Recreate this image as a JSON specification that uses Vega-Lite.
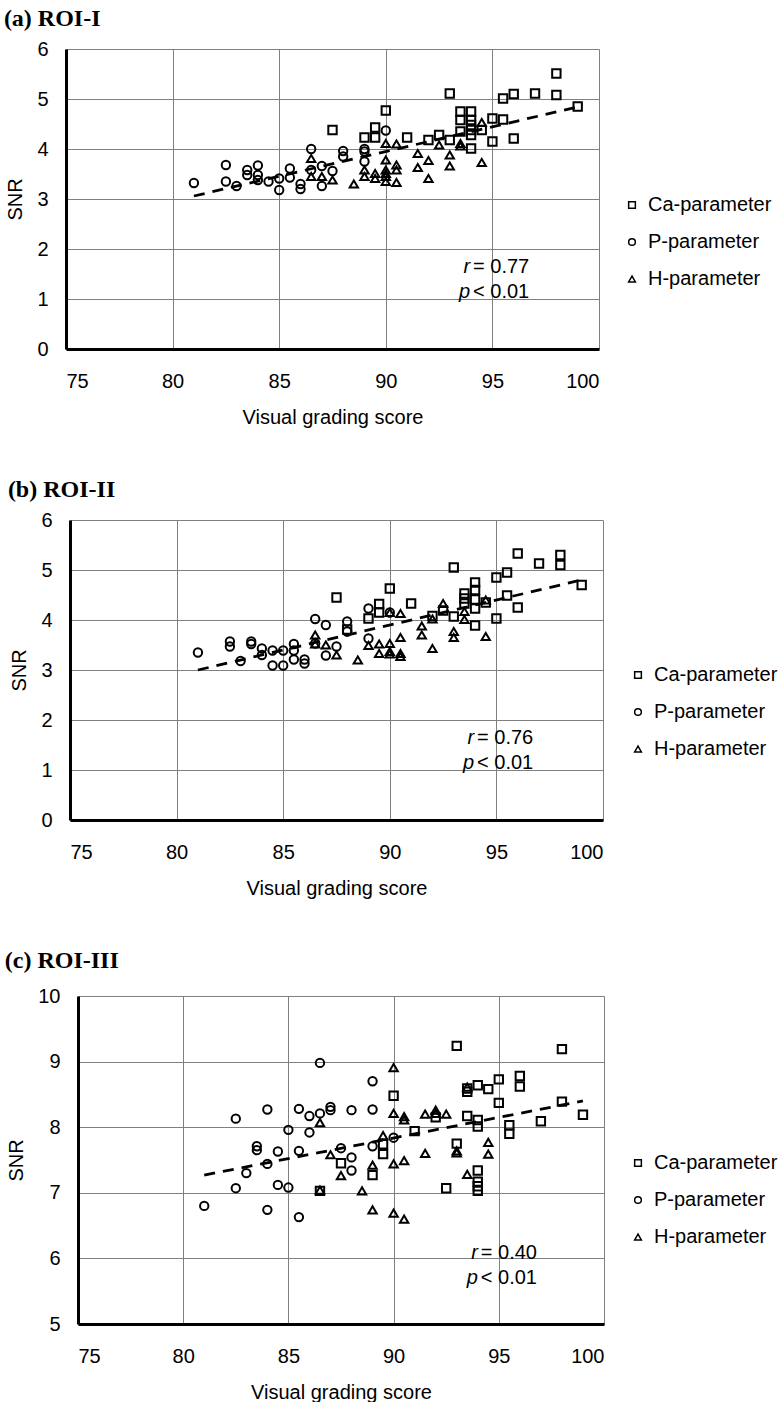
{
  "$schema": "https://vega.github.io/schema/vega-lite/v6.json",
  "background": "white",
  "padding": {"left": 0, "top": 7, "right": 0, "bottom": 0},
  "spacing": 51,
  "config": {
    "font": "Liberation Sans",
    "view": {"stroke": null},
    "title": {"font": "Liberation Serif", "fontWeight": "bold", "fontSize": 24, "anchor": "start", "frame": "bounds", "color": "black", "offset": 8, "dx": -2},
    "axis": {"domainColor": "black", "domainWidth": 3, "gridColor": "#808080", "gridWidth": 1, "ticks": false, "labelFontSize": 20, "labelColor": "black", "titleFontSize": 20, "titleFontWeight": "normal", "titleColor": "black", "labelOverlap": false},
    "axisX": {"labelPadding": 22, "titlePadding": 16},
    "axisY": {"labelPadding": 18, "titlePadding": 11},
    "legend": {"orient": "none", "padding": 0, "labelFontSize": 20, "labelColor": "black", "symbolSize": 45, "symbolStrokeWidth": 1.5, "symbolStrokeColor": "black", "rowPadding": 17, "labelOffset": 6, "title": null}
  },
  "datasets": {
    "a": [
      {"x": 87.5, "y": 4.38, "p": "Ca-parameter"}, {"x": 89, "y": 4.23, "p": "Ca-parameter"}, {"x": 89.5, "y": 4.43, "p": "Ca-parameter"}, {"x": 89.5, "y": 4.23, "p": "Ca-parameter"}, {"x": 90, "y": 4.77, "p": "Ca-parameter"}, {"x": 91, "y": 4.23, "p": "Ca-parameter"}, {"x": 92, "y": 4.18, "p": "Ca-parameter"}, {"x": 92.5, "y": 4.28, "p": "Ca-parameter"}, {"x": 93, "y": 5.11, "p": "Ca-parameter"}, {"x": 93, "y": 4.18, "p": "Ca-parameter"}, {"x": 93.5, "y": 4.75, "p": "Ca-parameter"}, {"x": 93.5, "y": 4.58, "p": "Ca-parameter"}, {"x": 93.5, "y": 4.35, "p": "Ca-parameter"}, {"x": 94, "y": 4.75, "p": "Ca-parameter"}, {"x": 94, "y": 4.58, "p": "Ca-parameter"}, {"x": 94, "y": 4.48, "p": "Ca-parameter"}, {"x": 94, "y": 4.38, "p": "Ca-parameter"}, {"x": 94, "y": 4.28, "p": "Ca-parameter"}, {"x": 94, "y": 4.01, "p": "Ca-parameter"}, {"x": 94.5, "y": 4.38, "p": "Ca-parameter"}, {"x": 95, "y": 4.61, "p": "Ca-parameter"}, {"x": 95, "y": 4.15, "p": "Ca-parameter"}, {"x": 95.5, "y": 5.01, "p": "Ca-parameter"}, {"x": 95.5, "y": 4.59, "p": "Ca-parameter"}, {"x": 96, "y": 5.1, "p": "Ca-parameter"}, {"x": 96, "y": 4.21, "p": "Ca-parameter"}, {"x": 97, "y": 5.11, "p": "Ca-parameter"}, {"x": 98, "y": 5.51, "p": "Ca-parameter"}, {"x": 98, "y": 5.08, "p": "Ca-parameter"}, {"x": 99, "y": 4.85, "p": "Ca-parameter"},
      {"x": 81, "y": 3.32, "p": "P-parameter"}, {"x": 82.5, "y": 3.68, "p": "P-parameter"}, {"x": 82.5, "y": 3.35, "p": "P-parameter"}, {"x": 83, "y": 3.26, "p": "P-parameter"}, {"x": 83.5, "y": 3.58, "p": "P-parameter"}, {"x": 83.5, "y": 3.48, "p": "P-parameter"}, {"x": 84, "y": 3.67, "p": "P-parameter"}, {"x": 84, "y": 3.48, "p": "P-parameter"}, {"x": 84, "y": 3.38, "p": "P-parameter"}, {"x": 84.5, "y": 3.35, "p": "P-parameter"}, {"x": 85, "y": 3.41, "p": "P-parameter"}, {"x": 85, "y": 3.18, "p": "P-parameter"}, {"x": 85.5, "y": 3.61, "p": "P-parameter"}, {"x": 85.5, "y": 3.43, "p": "P-parameter"}, {"x": 86, "y": 3.3, "p": "P-parameter"}, {"x": 86, "y": 3.2, "p": "P-parameter"}, {"x": 86.5, "y": 4.0, "p": "P-parameter"}, {"x": 86.5, "y": 3.58, "p": "P-parameter"}, {"x": 87, "y": 3.66, "p": "P-parameter"}, {"x": 87, "y": 3.26, "p": "P-parameter"}, {"x": 87.5, "y": 3.56, "p": "P-parameter"}, {"x": 88, "y": 3.96, "p": "P-parameter"}, {"x": 88, "y": 3.85, "p": "P-parameter"}, {"x": 89, "y": 4.0, "p": "P-parameter"}, {"x": 89, "y": 3.95, "p": "P-parameter"}, {"x": 89, "y": 3.75, "p": "P-parameter"}, {"x": 90, "y": 4.37, "p": "P-parameter"},
      {"x": 86.5, "y": 3.81, "p": "H-parameter"}, {"x": 86.5, "y": 3.45, "p": "H-parameter"}, {"x": 87, "y": 3.45, "p": "H-parameter"}, {"x": 87.5, "y": 3.38, "p": "H-parameter"}, {"x": 88.5, "y": 3.3, "p": "H-parameter"}, {"x": 89, "y": 3.58, "p": "H-parameter"}, {"x": 89, "y": 3.45, "p": "H-parameter"}, {"x": 89.5, "y": 3.51, "p": "H-parameter"}, {"x": 89.5, "y": 3.41, "p": "H-parameter"}, {"x": 90, "y": 4.11, "p": "H-parameter"}, {"x": 90, "y": 3.78, "p": "H-parameter"}, {"x": 90, "y": 3.58, "p": "H-parameter"}, {"x": 90, "y": 3.51, "p": "H-parameter"}, {"x": 90, "y": 3.45, "p": "H-parameter"}, {"x": 90, "y": 3.35, "p": "H-parameter"}, {"x": 90.5, "y": 4.1, "p": "H-parameter"}, {"x": 90.5, "y": 3.68, "p": "H-parameter"}, {"x": 90.5, "y": 3.58, "p": "H-parameter"}, {"x": 90.5, "y": 3.33, "p": "H-parameter"}, {"x": 91.5, "y": 3.91, "p": "H-parameter"}, {"x": 91.5, "y": 3.63, "p": "H-parameter"}, {"x": 92, "y": 3.77, "p": "H-parameter"}, {"x": 92, "y": 3.41, "p": "H-parameter"}, {"x": 92.5, "y": 4.08, "p": "H-parameter"}, {"x": 93, "y": 3.88, "p": "H-parameter"}, {"x": 93, "y": 3.66, "p": "H-parameter"}, {"x": 93.5, "y": 4.11, "p": "H-parameter"}, {"x": 93.5, "y": 4.06, "p": "H-parameter"}, {"x": 94.5, "y": 4.53, "p": "H-parameter"}, {"x": 94.5, "y": 3.73, "p": "H-parameter"}
    ],
    "b": [
      {"x": 87.5, "y": 4.45, "p": "Ca-parameter"}, {"x": 88, "y": 3.81, "p": "Ca-parameter"}, {"x": 89, "y": 4.03, "p": "Ca-parameter"}, {"x": 89.5, "y": 4.32, "p": "Ca-parameter"}, {"x": 89.5, "y": 4.15, "p": "Ca-parameter"}, {"x": 90, "y": 4.63, "p": "Ca-parameter"}, {"x": 91, "y": 4.33, "p": "Ca-parameter"}, {"x": 92, "y": 4.08, "p": "Ca-parameter"}, {"x": 92.5, "y": 4.19, "p": "Ca-parameter"}, {"x": 93, "y": 5.05, "p": "Ca-parameter"}, {"x": 93, "y": 4.07, "p": "Ca-parameter"}, {"x": 93.5, "y": 4.53, "p": "Ca-parameter"}, {"x": 93.5, "y": 4.43, "p": "Ca-parameter"}, {"x": 93.5, "y": 4.33, "p": "Ca-parameter"}, {"x": 94, "y": 4.75, "p": "Ca-parameter"}, {"x": 94, "y": 4.6, "p": "Ca-parameter"}, {"x": 94, "y": 4.41, "p": "Ca-parameter"}, {"x": 94, "y": 4.23, "p": "Ca-parameter"}, {"x": 94, "y": 3.89, "p": "Ca-parameter"}, {"x": 94.5, "y": 4.35, "p": "Ca-parameter"}, {"x": 95, "y": 4.85, "p": "Ca-parameter"}, {"x": 95, "y": 4.03, "p": "Ca-parameter"}, {"x": 95.5, "y": 4.95, "p": "Ca-parameter"}, {"x": 95.5, "y": 4.49, "p": "Ca-parameter"}, {"x": 96, "y": 5.33, "p": "Ca-parameter"}, {"x": 96, "y": 4.25, "p": "Ca-parameter"}, {"x": 97, "y": 5.13, "p": "Ca-parameter"}, {"x": 98, "y": 5.3, "p": "Ca-parameter"}, {"x": 98, "y": 5.1, "p": "Ca-parameter"}, {"x": 99, "y": 4.7, "p": "Ca-parameter"},
      {"x": 81, "y": 3.35, "p": "P-parameter"}, {"x": 82.5, "y": 3.57, "p": "P-parameter"}, {"x": 82.5, "y": 3.47, "p": "P-parameter"}, {"x": 83, "y": 3.18, "p": "P-parameter"}, {"x": 83.5, "y": 3.57, "p": "P-parameter"}, {"x": 83.5, "y": 3.52, "p": "P-parameter"}, {"x": 84, "y": 3.43, "p": "P-parameter"}, {"x": 84, "y": 3.3, "p": "P-parameter"}, {"x": 84.5, "y": 3.39, "p": "P-parameter"}, {"x": 84.5, "y": 3.09, "p": "P-parameter"}, {"x": 85, "y": 3.39, "p": "P-parameter"}, {"x": 85, "y": 3.09, "p": "P-parameter"}, {"x": 85.5, "y": 3.52, "p": "P-parameter"}, {"x": 85.5, "y": 3.39, "p": "P-parameter"}, {"x": 85.5, "y": 3.21, "p": "P-parameter"}, {"x": 86, "y": 3.21, "p": "P-parameter"}, {"x": 86, "y": 3.13, "p": "P-parameter"}, {"x": 86.5, "y": 4.02, "p": "P-parameter"}, {"x": 86.5, "y": 3.53, "p": "P-parameter"}, {"x": 87, "y": 3.9, "p": "P-parameter"}, {"x": 87, "y": 3.29, "p": "P-parameter"}, {"x": 87.5, "y": 3.47, "p": "P-parameter"}, {"x": 88, "y": 3.97, "p": "P-parameter"}, {"x": 88, "y": 3.77, "p": "P-parameter"}, {"x": 89, "y": 4.23, "p": "P-parameter"}, {"x": 89, "y": 3.63, "p": "P-parameter"}, {"x": 90, "y": 4.15, "p": "P-parameter"},
      {"x": 86.5, "y": 3.7, "p": "H-parameter"}, {"x": 86.5, "y": 3.52, "p": "H-parameter"}, {"x": 87, "y": 3.5, "p": "H-parameter"}, {"x": 87.5, "y": 3.3, "p": "H-parameter"}, {"x": 88.5, "y": 3.2, "p": "H-parameter"}, {"x": 89, "y": 3.49, "p": "H-parameter"}, {"x": 89.5, "y": 3.52, "p": "H-parameter"}, {"x": 89.5, "y": 3.33, "p": "H-parameter"}, {"x": 90, "y": 4.15, "p": "H-parameter"}, {"x": 90, "y": 3.53, "p": "H-parameter"}, {"x": 90, "y": 3.37, "p": "H-parameter"}, {"x": 90, "y": 3.32, "p": "H-parameter"}, {"x": 90.5, "y": 4.13, "p": "H-parameter"}, {"x": 90.5, "y": 3.65, "p": "H-parameter"}, {"x": 90.5, "y": 3.33, "p": "H-parameter"}, {"x": 90.5, "y": 3.27, "p": "H-parameter"}, {"x": 91.5, "y": 3.88, "p": "H-parameter"}, {"x": 91.5, "y": 3.7, "p": "H-parameter"}, {"x": 92, "y": 3.43, "p": "H-parameter"}, {"x": 92, "y": 4.02, "p": "H-parameter"}, {"x": 92.5, "y": 4.33, "p": "H-parameter"}, {"x": 93, "y": 3.77, "p": "H-parameter"}, {"x": 93, "y": 3.65, "p": "H-parameter"}, {"x": 93.5, "y": 4.17, "p": "H-parameter"}, {"x": 93.5, "y": 4.01, "p": "H-parameter"}, {"x": 94.5, "y": 3.67, "p": "H-parameter"}, {"x": 94.5, "y": 4.4, "p": "H-parameter"}
    ],
    "c": [
      {"x": 90, "y": 8.48, "p": "Ca-parameter"}, {"x": 89.5, "y": 7.74, "p": "Ca-parameter"}, {"x": 89.5, "y": 7.59, "p": "Ca-parameter"}, {"x": 87.5, "y": 7.45, "p": "Ca-parameter"}, {"x": 89, "y": 7.27, "p": "Ca-parameter"}, {"x": 86.5, "y": 7.03, "p": "Ca-parameter"}, {"x": 93, "y": 9.24, "p": "Ca-parameter"}, {"x": 98, "y": 9.19, "p": "Ca-parameter"}, {"x": 93.5, "y": 8.59, "p": "Ca-parameter"}, {"x": 93.5, "y": 8.54, "p": "Ca-parameter"}, {"x": 94, "y": 8.64, "p": "Ca-parameter"}, {"x": 94.5, "y": 8.58, "p": "Ca-parameter"}, {"x": 95, "y": 8.73, "p": "Ca-parameter"}, {"x": 96, "y": 8.78, "p": "Ca-parameter"}, {"x": 96, "y": 8.62, "p": "Ca-parameter"}, {"x": 95, "y": 8.37, "p": "Ca-parameter"}, {"x": 98, "y": 8.39, "p": "Ca-parameter"}, {"x": 99, "y": 8.19, "p": "Ca-parameter"}, {"x": 97, "y": 8.09, "p": "Ca-parameter"}, {"x": 95.5, "y": 8.03, "p": "Ca-parameter"}, {"x": 95.5, "y": 7.9, "p": "Ca-parameter"}, {"x": 93.5, "y": 8.17, "p": "Ca-parameter"}, {"x": 94, "y": 8.11, "p": "Ca-parameter"}, {"x": 94, "y": 8.01, "p": "Ca-parameter"}, {"x": 92, "y": 8.15, "p": "Ca-parameter"}, {"x": 91, "y": 7.94, "p": "Ca-parameter"}, {"x": 93, "y": 7.75, "p": "Ca-parameter"}, {"x": 94, "y": 7.34, "p": "Ca-parameter"}, {"x": 94, "y": 7.17, "p": "Ca-parameter"}, {"x": 94, "y": 7.1, "p": "Ca-parameter"}, {"x": 94, "y": 7.03, "p": "Ca-parameter"}, {"x": 92.5, "y": 7.07, "p": "Ca-parameter"},
      {"x": 86.5, "y": 8.98, "p": "P-parameter"}, {"x": 89, "y": 8.7, "p": "P-parameter"}, {"x": 82.5, "y": 8.13, "p": "P-parameter"}, {"x": 84, "y": 8.27, "p": "P-parameter"}, {"x": 85.5, "y": 8.28, "p": "P-parameter"}, {"x": 86, "y": 8.17, "p": "P-parameter"}, {"x": 86.5, "y": 8.21, "p": "P-parameter"}, {"x": 87, "y": 8.31, "p": "P-parameter"}, {"x": 87, "y": 8.26, "p": "P-parameter"}, {"x": 88, "y": 8.26, "p": "P-parameter"}, {"x": 89, "y": 8.27, "p": "P-parameter"}, {"x": 85, "y": 7.96, "p": "P-parameter"}, {"x": 86, "y": 7.92, "p": "P-parameter"}, {"x": 83.5, "y": 7.71, "p": "P-parameter"}, {"x": 83.5, "y": 7.65, "p": "P-parameter"}, {"x": 84.5, "y": 7.63, "p": "P-parameter"}, {"x": 85.5, "y": 7.64, "p": "P-parameter"}, {"x": 84, "y": 7.44, "p": "P-parameter"}, {"x": 83, "y": 7.3, "p": "P-parameter"}, {"x": 87.5, "y": 7.68, "p": "P-parameter"}, {"x": 88, "y": 7.54, "p": "P-parameter"}, {"x": 88, "y": 7.34, "p": "P-parameter"}, {"x": 89, "y": 7.71, "p": "P-parameter"}, {"x": 90, "y": 7.84, "p": "P-parameter"}, {"x": 82.5, "y": 7.07, "p": "P-parameter"}, {"x": 84.5, "y": 7.12, "p": "P-parameter"}, {"x": 85, "y": 7.08, "p": "P-parameter"}, {"x": 81, "y": 6.8, "p": "P-parameter"}, {"x": 84, "y": 6.74, "p": "P-parameter"}, {"x": 85.5, "y": 6.63, "p": "P-parameter"},
      {"x": 90, "y": 8.91, "p": "H-parameter"}, {"x": 90, "y": 8.21, "p": "H-parameter"}, {"x": 90.5, "y": 8.16, "p": "H-parameter"}, {"x": 90.5, "y": 8.11, "p": "H-parameter"}, {"x": 86.5, "y": 8.07, "p": "H-parameter"}, {"x": 89.5, "y": 7.87, "p": "H-parameter"}, {"x": 87, "y": 7.58, "p": "H-parameter"}, {"x": 89, "y": 7.42, "p": "H-parameter"}, {"x": 87.5, "y": 7.26, "p": "H-parameter"}, {"x": 90, "y": 7.44, "p": "H-parameter"}, {"x": 90.5, "y": 7.49, "p": "H-parameter"}, {"x": 86.5, "y": 7.04, "p": "H-parameter"}, {"x": 88.5, "y": 7.03, "p": "H-parameter"}, {"x": 89, "y": 6.74, "p": "H-parameter"}, {"x": 90, "y": 6.69, "p": "H-parameter"}, {"x": 90.5, "y": 6.6, "p": "H-parameter"}, {"x": 91.5, "y": 8.2, "p": "H-parameter"}, {"x": 92, "y": 8.26, "p": "H-parameter"}, {"x": 92, "y": 8.21, "p": "H-parameter"}, {"x": 92.5, "y": 8.2, "p": "H-parameter"}, {"x": 93.5, "y": 8.61, "p": "H-parameter"}, {"x": 91.5, "y": 7.6, "p": "H-parameter"}, {"x": 93, "y": 7.64, "p": "H-parameter"}, {"x": 93, "y": 7.61, "p": "H-parameter"}, {"x": 94.5, "y": 7.77, "p": "H-parameter"}, {"x": 94.5, "y": 7.59, "p": "H-parameter"}, {"x": 93.5, "y": 7.28, "p": "H-parameter"}
    ],
    "la": [{"x": 81, "y": 3.06}, {"x": 99, "y": 4.84}],
    "lb": [{"x": 81, "y": 3.0}, {"x": 99, "y": 4.8}],
    "lc": [{"x": 81, "y": 7.27}, {"x": 99, "y": 8.4}],
    "ia": [{"x": 94, "y": 1.64, "t": "r"}, {"x": 94, "y": 1.14, "t": "p"}],
    "na": [{"x": 94, "y": 1.64, "t": "= 0.77"}, {"x": 94, "y": 1.14, "t": "< 0.01"}],
    "ib": [{"x": 94, "y": 1.64, "t": "r"}, {"x": 94, "y": 1.14, "t": "p"}],
    "nb": [{"x": 94, "y": 1.64, "t": "= 0.76"}, {"x": 94, "y": 1.14, "t": "< 0.01"}],
    "ic": [{"x": 94.05, "y": 6.08, "t": "r"}, {"x": 94.05, "y": 5.7, "t": "p"}],
    "nc": [{"x": 94.05, "y": 6.08, "t": "= 0.40"}, {"x": 94.05, "y": 5.7, "t": "< 0.01"}],
    "blank": [{"t": ""}]
  },
  "resolve": {"scale": {"x": "independent", "y": "independent", "shape": "independent"}, "legend": {"shape": "independent"}},
  "vconcat": [
    {
      "spacing": 0,
      "resolve": {"scale": {"shape": "independent"}, "legend": {"shape": "independent"}},
      "hconcat": [
        {"width": 3, "height": 1, "data": {"name": "blank"}, "mark": {"type": "text", "fontSize": 1}, "encoding": {"text": {"field": "t"}}},
        {
          "title": "(a) ROI-I",
          "width": 533, "height": 300,
          "encoding": {
            "x": {"field": "x", "type": "quantitative", "scale": {"domain": [75, 100], "nice": false, "zero": false}, "axis": {"values": [75, 80, 85, 90, 95, 100], "title": "Visual grading score"}},
            "y": {"field": "y", "type": "quantitative", "scale": {"domain": [0, 6], "nice": false}, "axis": {"values": [0, 1, 2, 3, 4, 5, 6], "title": "SNR"}}
          },
          "layer": [
            {"data": {"name": "la"}, "mark": {"type": "line", "color": "black", "strokeWidth": 2.8, "strokeDash": [11, 8]}},
            {"data": {"name": "a"}, "mark": {"type": "point", "filled": false, "stroke": "black", "strokeWidth": 2, "size": 70, "opacity": 1},
             "encoding": {"shape": {"field": "p", "type": "nominal", "sort": null, "scale": {"domain": ["Ca-parameter", "P-parameter", "H-parameter"], "range": ["square", "circle", "triangle-up"]}, "legend": {"legendX": 556, "legendY": 146}}}},
            {"data": {"name": "ia"}, "mark": {"type": "text", "fontStyle": "italic", "fontSize": 20, "align": "right", "baseline": "middle", "dx": -1, "color": "black"}, "encoding": {"text": {"field": "t"}}},
            {"data": {"name": "na"}, "mark": {"type": "text", "fontSize": 20, "align": "left", "baseline": "middle", "dx": 2, "color": "black"}, "encoding": {"text": {"field": "t"}}}
          ]
        }
      ]
    },
    {
      "spacing": 0,
      "resolve": {"scale": {"shape": "independent"}, "legend": {"shape": "independent"}},
      "hconcat": [
        {"width": 7, "height": 1, "data": {"name": "blank"}, "mark": {"type": "text", "fontSize": 1}, "encoding": {"text": {"field": "t"}}},
        {
          "title": "(b) ROI-II",
          "width": 533, "height": 300,
          "encoding": {
            "x": {"field": "x", "type": "quantitative", "scale": {"domain": [75, 100], "nice": false, "zero": false}, "axis": {"values": [75, 80, 85, 90, 95, 100], "title": "Visual grading score"}},
            "y": {"field": "y", "type": "quantitative", "scale": {"domain": [0, 6], "nice": false}, "axis": {"values": [0, 1, 2, 3, 4, 5, 6], "title": "SNR"}}
          },
          "layer": [
            {"data": {"name": "lb"}, "mark": {"type": "line", "color": "black", "strokeWidth": 2.8, "strokeDash": [11, 8]}},
            {"data": {"name": "b"}, "mark": {"type": "point", "filled": false, "stroke": "black", "strokeWidth": 2, "size": 70, "opacity": 1},
             "encoding": {"shape": {"field": "p", "type": "nominal", "sort": null, "scale": {"domain": ["Ca-parameter", "P-parameter", "H-parameter"], "range": ["square", "circle", "triangle-up"]}, "legend": {"legendX": 558, "legendY": 145}}}},
            {"data": {"name": "ib"}, "mark": {"type": "text", "fontStyle": "italic", "fontSize": 20, "align": "right", "baseline": "middle", "dx": -1, "color": "black"}, "encoding": {"text": {"field": "t"}}},
            {"data": {"name": "nb"}, "mark": {"type": "text", "fontSize": 20, "align": "left", "baseline": "middle", "dx": 2, "color": "black"}, "encoding": {"text": {"field": "t"}}}
          ]
        }
      ]
    },
    {
      "spacing": 0,
      "resolve": {"scale": {"shape": "independent"}, "legend": {"shape": "independent"}},
      "hconcat": [
        {"width": 4, "height": 1, "data": {"name": "blank"}, "mark": {"type": "text", "fontSize": 1}, "encoding": {"text": {"field": "t"}}},
        {
          "title": {"text": "(c) ROI-III", "offset": 13},
          "width": 526, "height": 328,
          "encoding": {
            "x": {"field": "x", "type": "quantitative", "scale": {"domain": [75, 100], "nice": false, "zero": false}, "axis": {"values": [75, 80, 85, 90, 95, 100], "title": "Visual grading score"}},
            "y": {"field": "y", "type": "quantitative", "scale": {"domain": [5, 10], "nice": false, "zero": false}, "axis": {"values": [5, 6, 7, 8, 9, 10], "title": "SNR"}}
          },
          "layer": [
            {"data": {"name": "lc"}, "mark": {"type": "line", "color": "black", "strokeWidth": 2.8, "strokeDash": [11, 8]}},
            {"data": {"name": "c"}, "mark": {"type": "point", "filled": false, "stroke": "black", "strokeWidth": 2, "size": 70, "opacity": 1},
             "encoding": {"shape": {"field": "p", "type": "nominal", "sort": null, "scale": {"domain": ["Ca-parameter", "P-parameter", "H-parameter"], "range": ["square", "circle", "triangle-up"]}, "legend": {"legendX": 550, "legendY": 157}}}},
            {"data": {"name": "ic"}, "mark": {"type": "text", "fontStyle": "italic", "fontSize": 20, "align": "right", "baseline": "middle", "dx": -1, "color": "black"}, "encoding": {"text": {"field": "t"}}},
            {"data": {"name": "nc"}, "mark": {"type": "text", "fontSize": 20, "align": "left", "baseline": "middle", "dx": 2, "color": "black"}, "encoding": {"text": {"field": "t"}}}
          ]
        }
      ]
    }
  ]
}
